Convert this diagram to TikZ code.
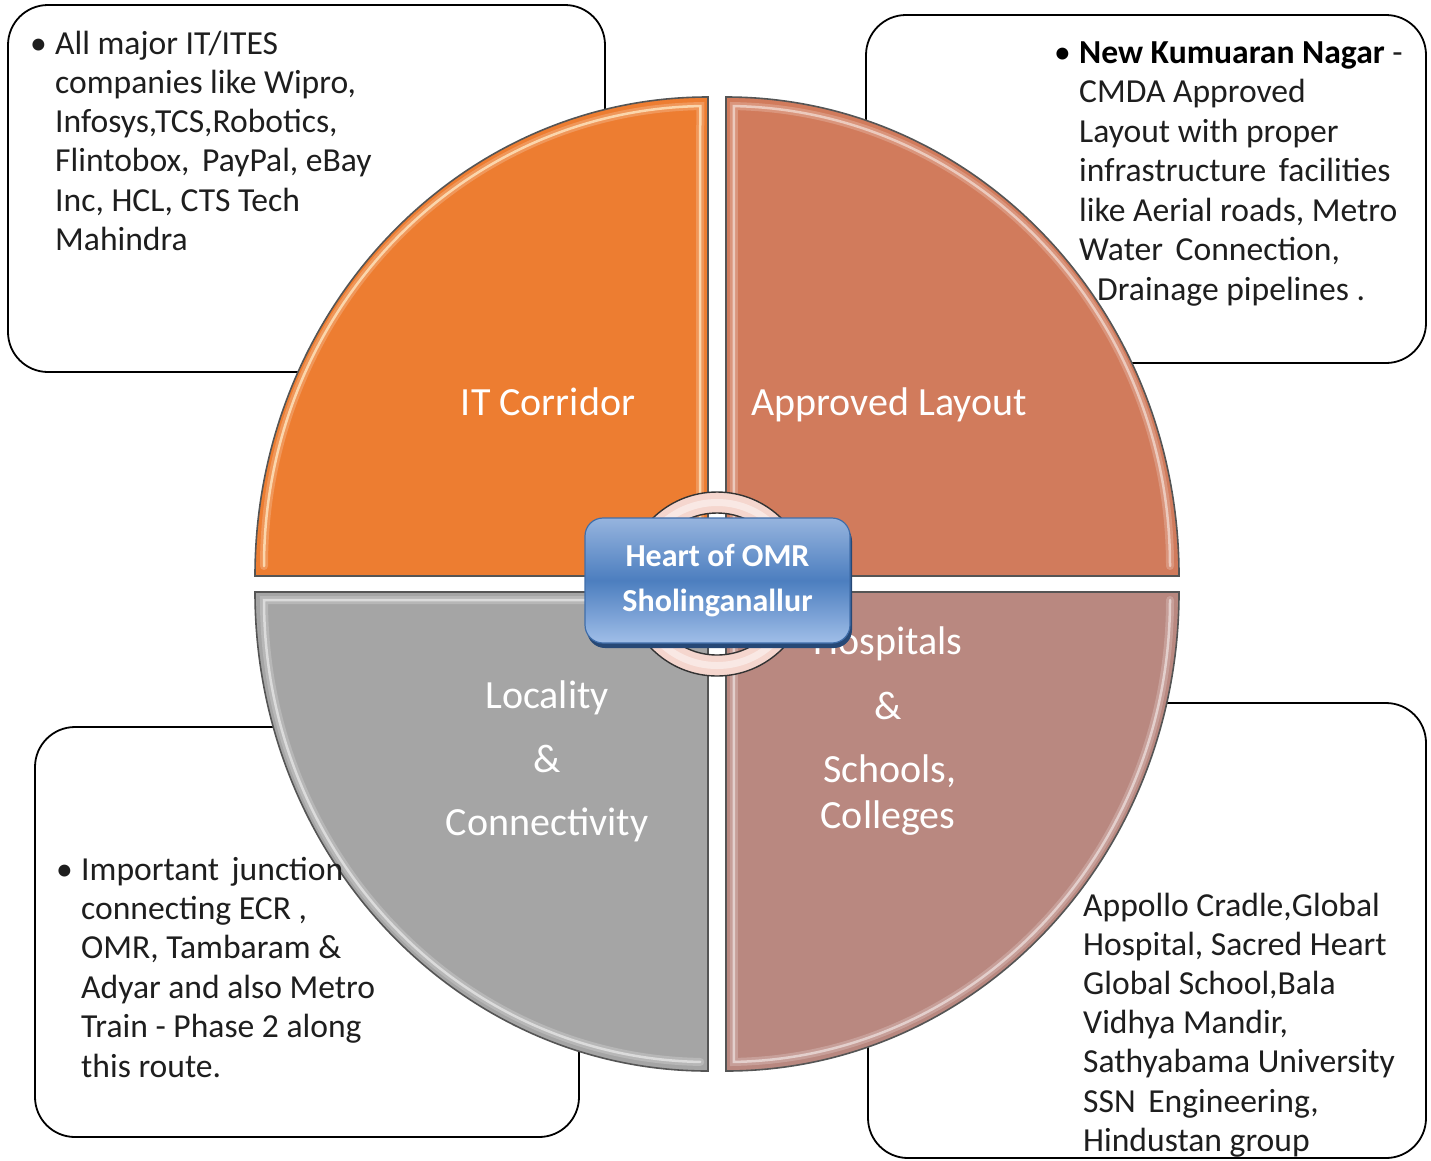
\documentclass[tikz,border=0pt]{standalone}
\usepackage{fontspec}
\setmainfont{Carlito}
\usetikzlibrary{shadows}
\definecolor{qorange}{RGB}{237,125,49}
\definecolor{qrust}{RGB}{209,123,92}
\definecolor{qgray}{RGB}{165,165,165}
\definecolor{qrose}{RGB}{185,136,128}
\definecolor{qedge}{RGB}{85,85,85}
\definecolor{ringfill}{RGB}{245,214,206}
\definecolor{btop}{RGB}{150,180,222}
\definecolor{bmid}{RGB}{76,126,191}
\definecolor{bbot}{RGB}{160,190,232}
\definecolor{bline}{RGB}{64,110,170}
\definecolor{bshadow}{RGB}{38,72,118}
\definecolor{txt}{RGB}{30,30,30}
\definecolor{warmglow}{RGB}{255,236,200}
\begin{document}
\begin{tikzpicture}[x=1pt,y=-1pt,
  infobox/.style={draw=black,line width=1.8pt,fill=white,rounded corners=40pt},
  infotext/.style={anchor=base west,inner sep=0pt,text=txt,font=\fontsize{33.6}{39.3}\selectfont},
  quad/.style={draw=qedge,line width=1.6pt},
  gloss/.style={draw=white,line width=2.5pt,opacity=0.5,line cap=round},
  glosswide/.style={draw=white,line width=8pt,opacity=0.2,line cap=round},
  qlabel/.style={anchor=base,inner sep=0pt,text=white,font=\fontsize{40}{48}\selectfont},
  centerbox/.style={rounded corners=18pt,minimum width=265pt,minimum height=125pt,
    draw=bline,line width=1.2pt,top color=btop,bottom color=bbot,middle color=bmid,
    text=white,align=center,inner sep=0pt,
    font=\bfseries\fontsize{32}{45}\selectfont,
    drop shadow={shadow xshift=2pt,shadow yshift=-5pt,fill=bshadow,opacity=1}}]
\useasboundingbox (0,0) rectangle (1431,1160);

% information boxes
\draw[infobox] (8,5) rectangle (605,372);
\draw[infobox] (866,15) rectangle (1426,363);
\draw[infobox] (35,727) rectangle (579,1137);
\draw[infobox] (868,703) rectangle (1426,1158);

% quadrants
\path[quad,fill=qorange] (708,576) -- (255,576) arc[start angle=180,end angle=90,x radius=453pt,y radius=479pt] -- cycle;
\path[quad,fill=qrust] (726,576) -- (726,97) arc[start angle=90,end angle=0,x radius=453pt,y radius=479pt] -- cycle;
\path[quad,fill=qrose] (726,592) -- (1179,592) arc[start angle=0,end angle=-90,x radius=453pt,y radius=479pt] -- cycle;
\path[quad,fill=qgray] (708,592) -- (708,1071) arc[start angle=-90,end angle=-180,x radius=453pt,y radius=479pt] -- cycle;

% glossy highlights
\path[glosswide] (264,566) arc[start angle=180,end angle=91,x radius=444pt,y radius=460pt] -- (700,566);
\path[gloss,draw=warmglow,opacity=0.75] (264,566) arc[start angle=180,end angle=91,x radius=444pt,y radius=460pt] -- (700,566);
\path[glosswide] (734,566) -- (733.75,106.07) arc[start angle=89,end angle=0,x radius=444pt,y radius=460pt];
\path[gloss] (734,566) -- (733.75,106.07) arc[start angle=89,end angle=0,x radius=444pt,y radius=460pt];
\path[glosswide] (1170,600) arc[start angle=0,end angle=-89,x radius=444pt,y radius=462pt] -- (734,600);
\path[gloss] (1170,600) arc[start angle=0,end angle=-89,x radius=444pt,y radius=462pt] -- (734,600);
\path[glosswide] (700,600) -- (264,600) arc[start angle=180,end angle=269,x radius=444pt,y radius=462pt];
\path[gloss] (700,600) -- (264,600) arc[start angle=180,end angle=269,x radius=444pt,y radius=462pt];

% ring
\draw[line width=1.4pt,draw=black!80,fill=ringfill,even odd rule] (717,584) circle[radius=92pt] (717,584) circle[radius=71pt];
\draw[white,opacity=0.45,line width=7pt] (717,584) circle[radius=81.5pt];

% quadrant labels
\node[qlabel] (itc) at (548,415) {IT Corridor};
\node[qlabel] (apl) at (889,415) {Approved Layout};
\node[qlabel] (loc1) at (547,708) {Locality};
\node[qlabel] (loc2) at (547,772) {\&};
\node[qlabel] (loc3) at (547,835) {Connectivity};
\node[qlabel] (hos1) at (888,654) {Hospitals};
\node[qlabel] (hos2) at (888,719) {\&};
\node[qlabel] (hos3) at (890,782) {Schools,};
\node[qlabel] (hos4) at (888,828) {Colleges};

% centre box
\node[centerbox] (heart) at (717.5,580.5) {Heart of OMR\\Sholinganallur};

% box texts
\node[infotext] (tlb) at (30,54) {\textbullet};
\foreach \t [count=\i from 0] in {{All major IT/ITES},{companies like Wipro,},{Infosys,TCS,Robotics,},{Flintobox,\hspace{5pt} PayPal, eBay},{Inc, HCL, CTS Tech},{Mahindra}}
  \node[infotext] (tl\i) at (55,{54+39.3*\i}) {\t};

\node[infotext,text=black] (trb) at (1054,63) {\textbullet};
\foreach \t [count=\i from 0] in {{\textbf{\textcolor{black}{New Kumuaran Nagar}} -},{CMDA Approved},{Layout with proper},{infrastructure\hspace{5pt} facilities},{like Aerial roads, Metro},{Water\hspace{5pt} Connection,}}
  \node[infotext] (tr\i) at (1079,{63+39.5*\i}) {\t};
\node[infotext] (tr6) at (1097,300) {Drainage pipelines .};

\node[infotext] (blb) at (56,880) {\textbullet};
\foreach \t [count=\i from 0] in {{Important\hspace{5pt} junction},{connecting ECR ,},{OMR, Tambaram \&},{Adyar and also Metro},{Train - Phase 2 along},{this route.}}
  \node[infotext] (bl\i) at (81,{880+39.4*\i}) {\t};

\foreach \t [count=\i from 0] in {{Appollo Cradle,Global},{Hospital, Sacred Heart},{Global School,Bala},{Vidhya Mandir,},{Sathyabama University},{SSN\hspace{5pt} Engineering,},{Hindustan group}}
  \node[infotext] (br\i) at (1083,{916+39.2*\i}) {\t};
\end{tikzpicture}
\end{document}
